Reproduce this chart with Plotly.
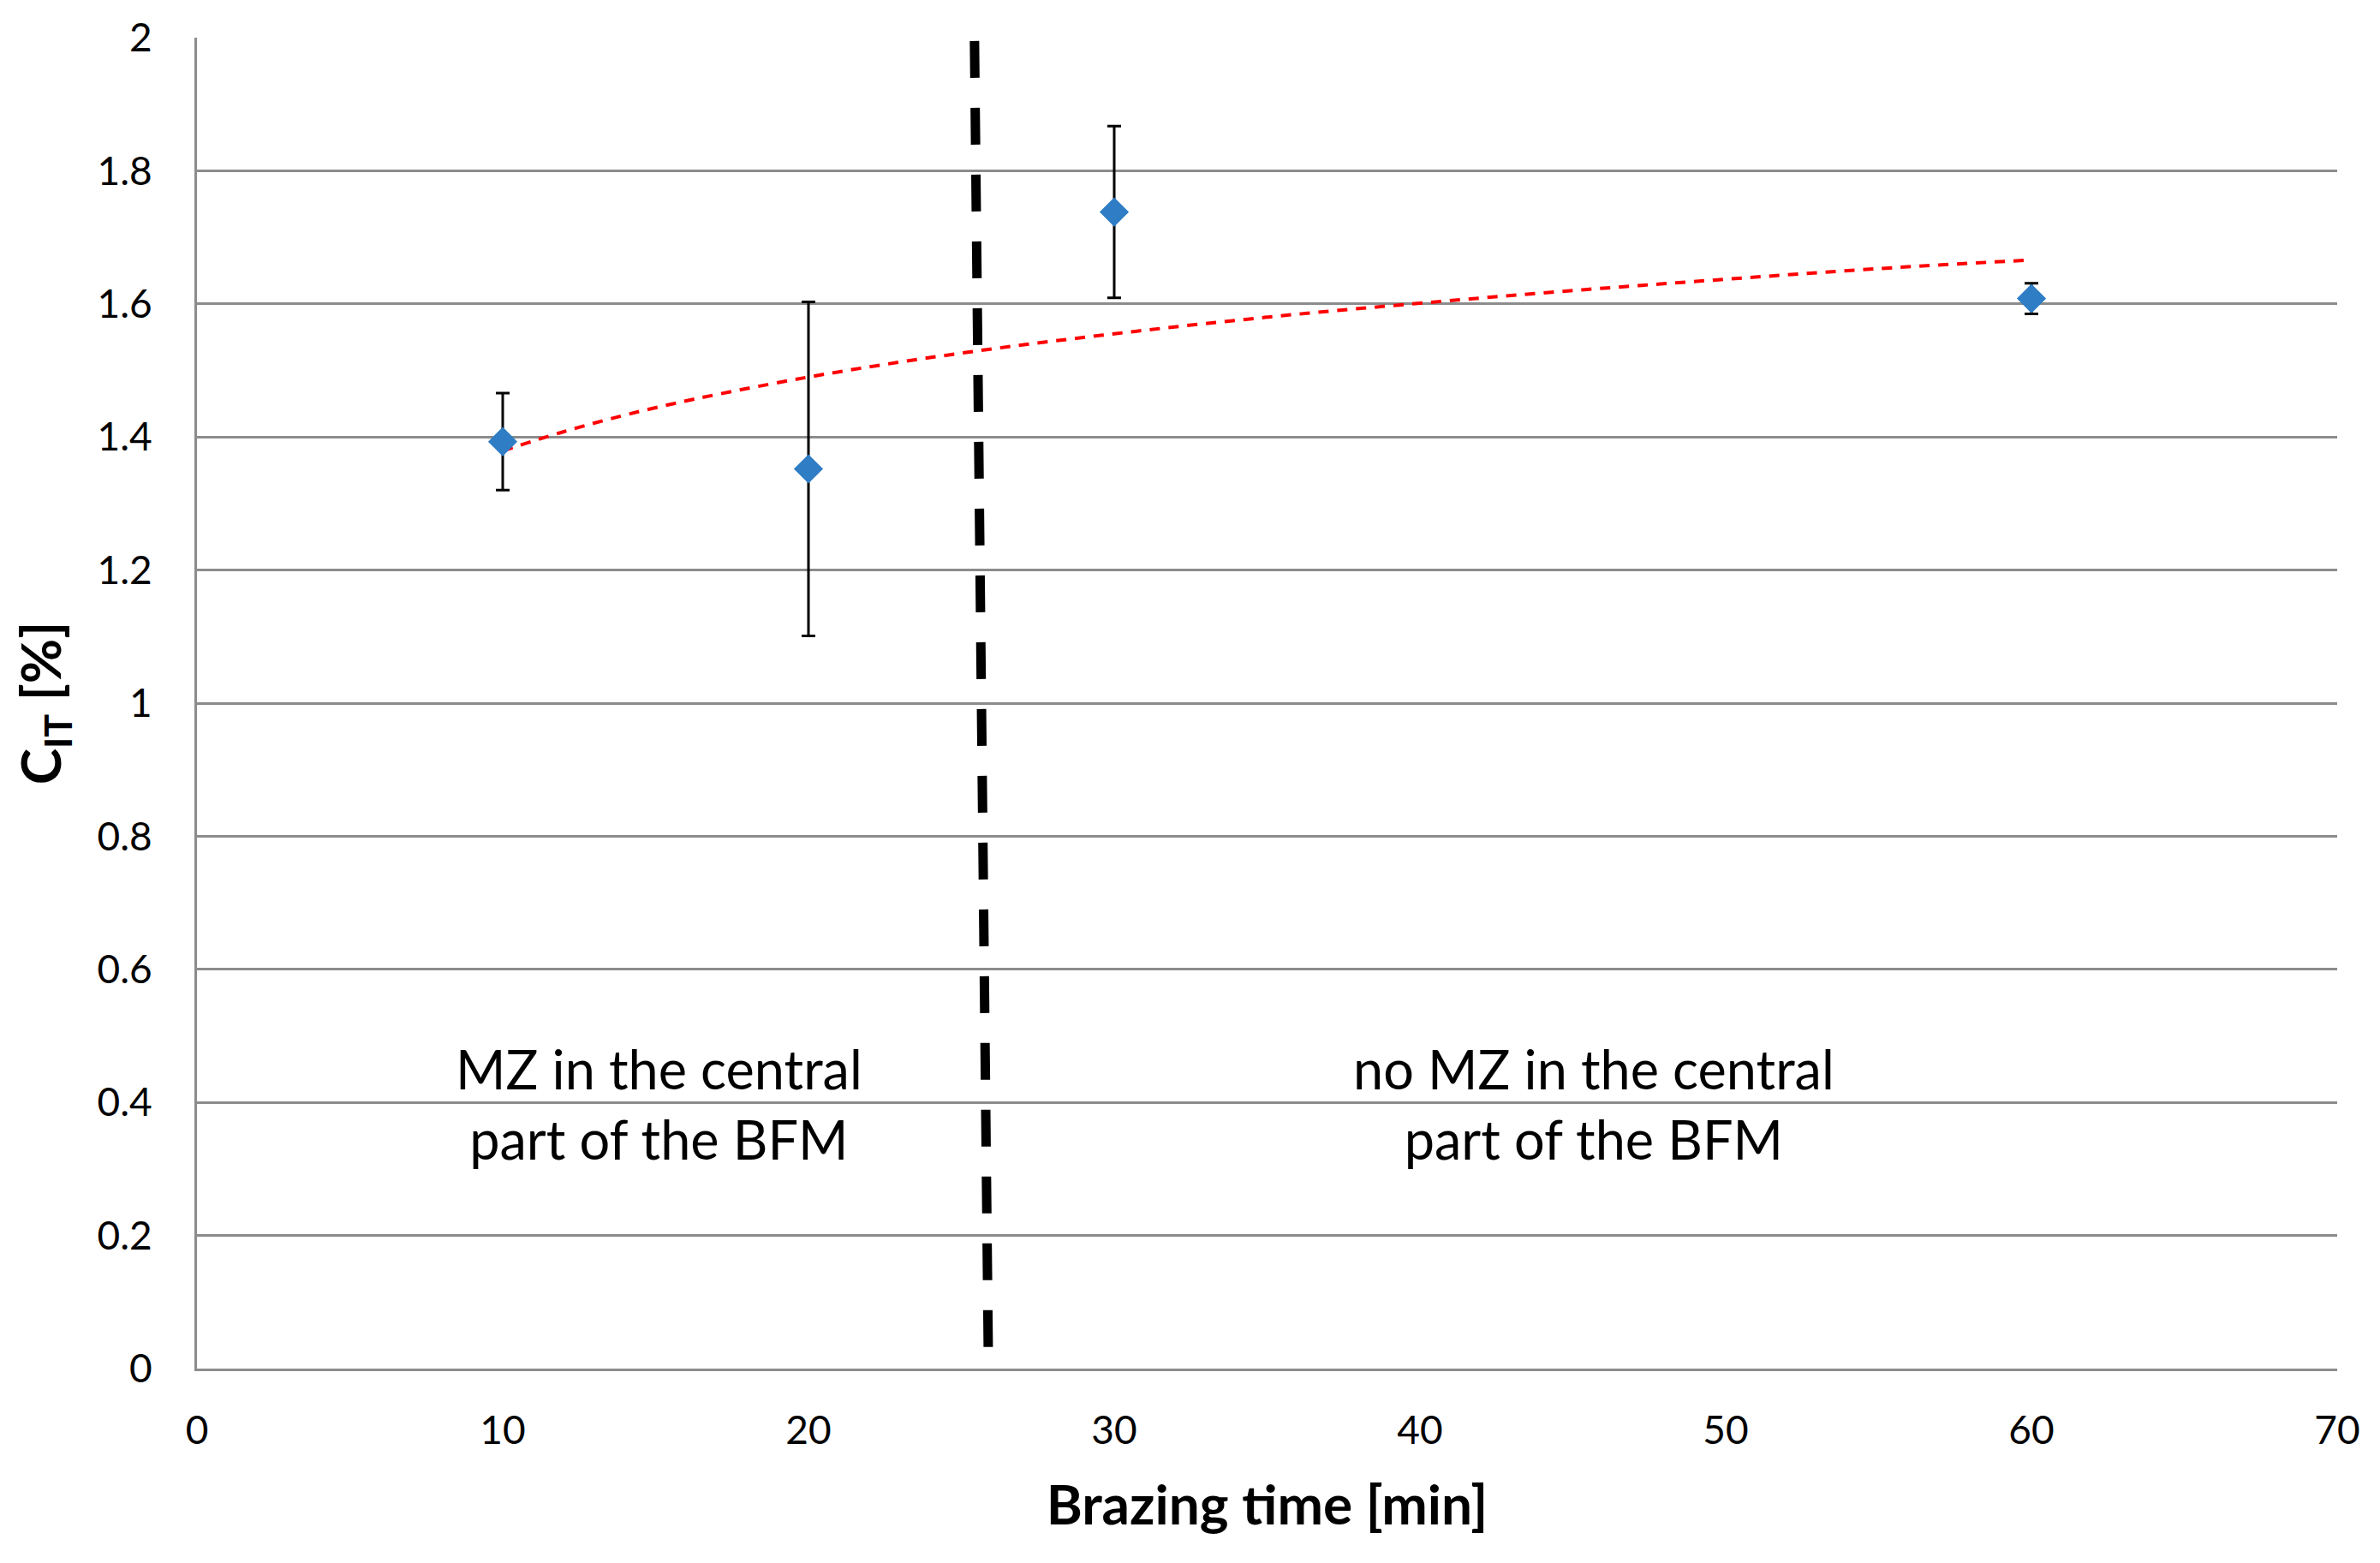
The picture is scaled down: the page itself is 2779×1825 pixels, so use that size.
import plotly.graph_objects as go

# Measured data
brazing_time = [10, 20, 30, 60]
c_it = [1.393, 1.352, 1.738, 1.608]
c_it_err = [0.073, 0.251, 0.129, 0.023]

# Trend line (logarithmic trend)
trend_x = [10, 12, 15, 20, 25, 30, 35, 40, 45, 50, 55, 60]
trend_y = [1.379, 1.408, 1.444, 1.490, 1.526, 1.555, 1.580, 1.601, 1.620, 1.637, 1.653, 1.666]

# Divider between regimes (dashed black line)
divider_x = [25.43, 25.88]
divider_y = [1.995, 0.03]

# Region labels
region_text = ["MZ in the central<br>part of the BFM", "no MZ in the central<br>part of the BFM"]
region_x = [15.1, 45.7]
region_y = [0.398, 0.398]

x_ticks = [0, 10, 20, 30, 40, 50, 60, 70]
y_ticks = [0, 0.2, 0.4, 0.6, 0.8, 1, 1.2, 1.4, 1.6, 1.8, 2]

FONT = "Lato"
GRID = "#8C8C8C"

fig = go.Figure()

fig.add_trace(go.Scatter(
    x=divider_x, y=divider_y, mode="lines",
    line=dict(color="black", width=11, dash="43px,35px"),
    hoverinfo="skip", showlegend=False,
))

fig.add_trace(go.Scatter(
    x=trend_x, y=trend_y, mode="lines",
    line=dict(color="#FF0000", width=4, dash="12px,10px", shape="spline"),
    hoverinfo="skip", showlegend=False,
))

fig.add_trace(go.Scatter(
    x=brazing_time, y=c_it, mode="markers",
    marker=dict(symbol="diamond", size=23, color="#2E7DC5",
                line=dict(color="#2E7DC5", width=3)),
    error_y=dict(type="data", array=c_it_err, visible=True,
                 color="black", thickness=3, width=8),
    showlegend=False,
))

for t, xx, yy in zip(region_text, region_x, region_y):
    fig.add_annotation(
        x=xx, y=yy, xref="x", yref="y", text=t, showarrow=False,
        font=dict(family=FONT, size=63, color="black"), align="center",
    )

fig.update_layout(
    width=2771, height=1817,
    margin=dict(l=222, r=50, t=36, b=227),
    paper_bgcolor="white", plot_bgcolor="white",
    showlegend=False,
    font=dict(family=FONT, color="black"),
)

fig.update_xaxes(
    range=[0, 70], tickvals=x_ticks, showgrid=False,
    showline=True, linecolor=GRID, linewidth=3,
    ticks="", ticklabelstandoff=30,
    tickfont=dict(family=FONT, size=46, color="black"),
    title=dict(text="<b>Brazing time [min]</b>", standoff=40,
               font=dict(family=FONT, size=64, color="black")),
    zeroline=False, automargin=False,
)

fig.update_yaxes(
    range=[0, 2], tickvals=y_ticks, showgrid=True,
    gridcolor=GRID, gridwidth=3,
    showline=True, linecolor=GRID, linewidth=3,
    ticks="", ticklabelstandoff=40,
    tickfont=dict(family=FONT, size=46, color="black"),
    title=dict(text="<b>C<sub>IT</sub> [%]</b>", standoff=22,
               font=dict(family=FONT, size=64, color="black")),
    zeroline=False, automargin=False,
)

fig.write_html("out.html")
